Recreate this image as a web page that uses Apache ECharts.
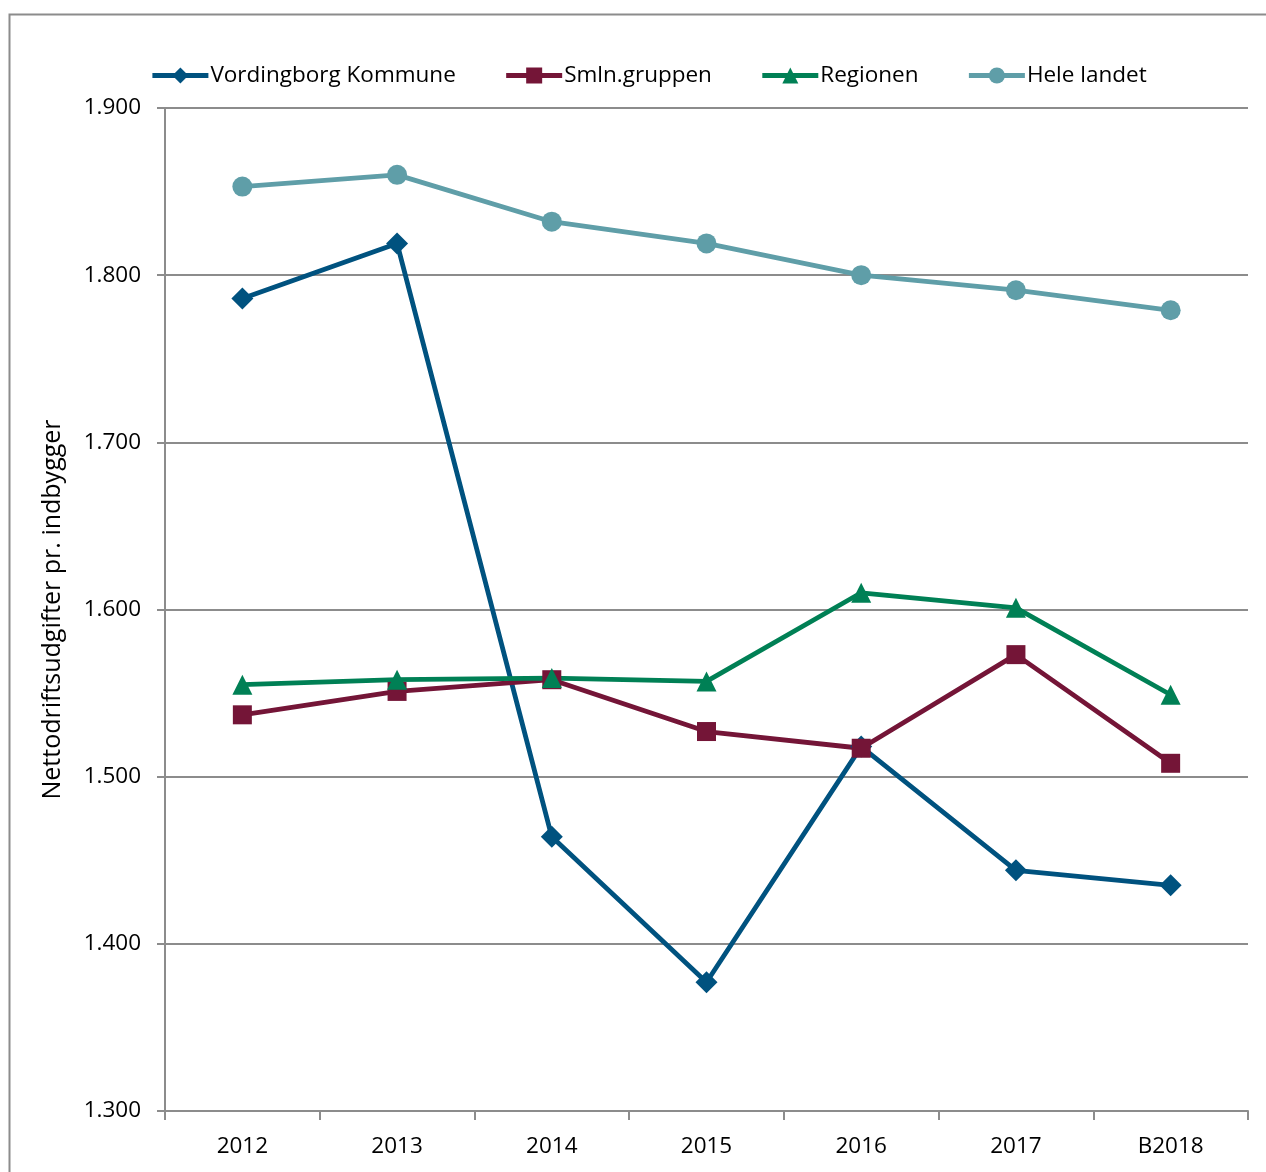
<!DOCTYPE html>
<html>
<head>
<meta charset="utf-8">
<script src="https://cdn.jsdelivr.net/npm/echarts@6/dist/echarts.min.js"></script>
<style>
  html, body { margin: 0; padding: 0; background: #ffffff; }
  #chart { width: 1266px; height: 1172px; }
</style>
</head>
<body>
<div id="chart"></div>
<script>
// Nettodriftsudgifter pr. indbygger, 2012 - budget 2018
const categories = ['2012', '2013', '2014', '2015', '2016', '2017', 'B2018'];
const vordingborg = [1786, 1819, 1464, 1377, 1518, 1444, 1435];
const smlnGruppen = [1537, 1551, 1558, 1527, 1517, 1573, 1508];
const regionen = [1555, 1558, 1559, 1557, 1610, 1601, 1549];
const heleLandet = [1853, 1860, 1832, 1819, 1800, 1791, 1779];
const yTicks = [1300, 1400, 1500, 1600, 1700, 1800, 1900];

const FONT = '"Open Sans", "Liberation Sans", sans-serif';
const GRID_GRAY = '#8c8c8c';

function fmt(v) {
  const s = String(v);
  return s.length > 3 ? s.slice(0, s.length - 3) + '.' + s.slice(-3) : s;
}

function lineSeries(name, data, color, symbol, size) {
  return {
    name: name,
    type: 'line',
    data: data,
    symbol: symbol,
    symbolSize: size,
    showAllSymbol: true,
    lineStyle: { color: color, width: 4.8 },
    itemStyle: { color: color },
    emphasis: { disabled: true },
    animation: false
  };
}

const chart = echarts.init(document.getElementById('chart'), null, { renderer: 'canvas' });
chart.setOption({
  backgroundColor: '#ffffff',
  animation: false,
  graphic: [{
    type: 'rect',
    shape: { x: 9.5, y: 14.5, width: 1400, height: 1400 },
    style: { fill: 'none', stroke: GRID_GRAY, lineWidth: 2 },
    silent: true,
    z: -1
  }],
  legend: {
    top: 59,
    left: 145,
    itemWidth: 56,
    itemHeight: 20,
    itemGap: 48,
    lineStyle: { width: 4.8 },
    textStyle: { fontFamily: FONT, fontSize: 22.5, color: '#000000', padding: [0, 0, 0, -3] },
    data: ['Vordingborg Kommune', 'Smln.gruppen', 'Regionen', 'Hele landet']
  },
  grid: { left: 165, right: 18, top: 108, bottom: 61, containLabel: false },
  xAxis: {
    type: 'category',
    data: categories,
    boundaryGap: true,
    axisLine: { lineStyle: { color: GRID_GRAY, width: 2 } },
    axisTick: { show: true, length: 9, lineStyle: { color: GRID_GRAY, width: 2 } },
    axisLabel: { fontFamily: FONT, fontSize: 22.5, color: '#000000', margin: 24 },
    splitLine: { show: false }
  },
  yAxis: {
    type: 'value',
    min: yTicks[0],
    max: yTicks[yTicks.length - 1],
    interval: 100,
    name: 'Nettodriftsudgifter pr. indbygger',
    nameLocation: 'middle',
    nameGap: 100,
    nameTextStyle: { fontFamily: FONT, fontSize: 25, color: '#000000' },
    axisLine: { show: true, lineStyle: { color: GRID_GRAY, width: 2 } },
    axisTick: { show: true, length: 8, lineStyle: { color: GRID_GRAY, width: 2 } },
    axisLabel: { fontFamily: FONT, fontSize: 22.5, color: '#000000', margin: 24, formatter: fmt },
    splitLine: { show: true, lineStyle: { color: GRID_GRAY, width: 2 } }
  },
  series: [
    lineSeries('Vordingborg Kommune', vordingborg, '#00527f', 'diamond', 22),
    lineSeries('Smln.gruppen', smlnGruppen, '#741537', 'rect', 19),
    lineSeries('Regionen', regionen, '#008055', 'triangle', 20),
    lineSeries('Hele landet', heleLandet, '#5f9ea8', 'circle', 20)
  ]
});
</script>
</body>
</html>
